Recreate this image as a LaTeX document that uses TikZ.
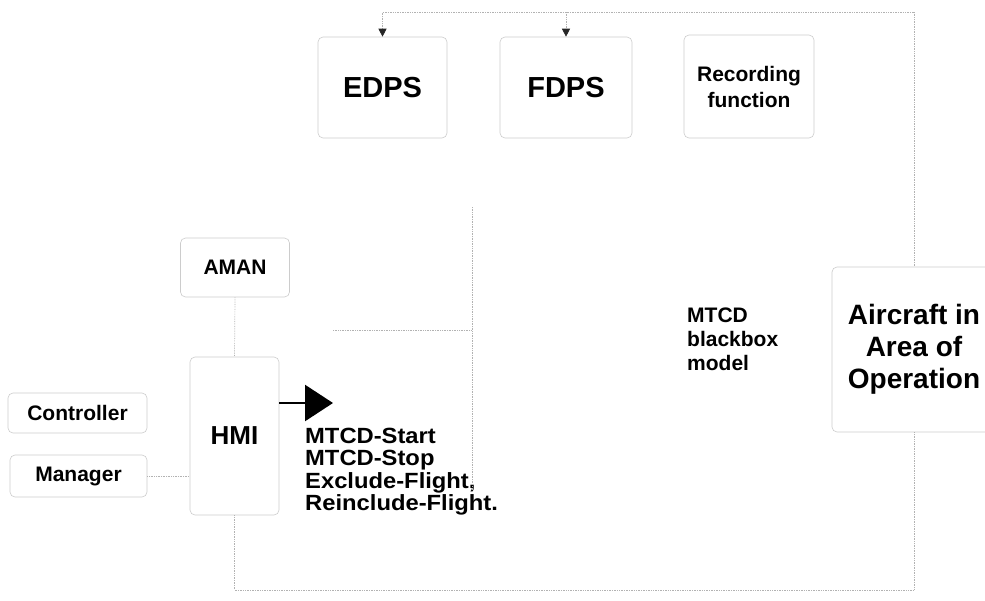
\documentclass[tikz,border=0pt]{standalone}
\usepackage{fontspec}
\setmainfont{Liberation Sans}
\newfontfamily\widesans[FakeStretch=1.08]{Liberation Sans}
\usetikzlibrary{arrows.meta}
\begin{document}
\begin{tikzpicture}[x=1pt,y=-1pt,
  box/.style={draw=gray!40,line width=0.6pt,rounded corners=5pt,inner sep=0pt,font=\bfseries},
  conn/.style={draw=gray!60,line width=0.7pt,densely dotted},
  smalltip/.style={-{Triangle[length=8pt,width=8pt,color=black!85]}},
  fsA/.style={font=\fontsize{29}{32}\selectfont\bfseries},
  fsB/.style={font=\fontsize{21}{24}\selectfont\bfseries},
  fsH/.style={font=\fontsize{26}{28}\selectfont\bfseries}]
\useasboundingbox[fill=white] (0,0) rectangle (985,600);
\clip (0,0) rectangle (985,600);
% boxes
\node[box,fsA,minimum width=129pt,minimum height=101pt] (edps) at (382.5,87.5) {EDPS};
\node[box,fsA,minimum width=132pt,minimum height=101pt] (fdps) at (566,87.5) {FDPS};
\node[box,font=\fontsize{21}{26}\selectfont\bfseries,align=center,minimum width=130pt,minimum height=103pt] (rec) at (749,86.5) {Recording\\function};
\node[box,fsB,minimum width=109pt,minimum height=59pt] (aman) at (235,267.5) {AMAN};
\node[box,fsH,minimum width=89pt,minimum height=158pt] (hmi) at (234.5,436) {HMI};
\node[box,fsB,minimum width=139pt,minimum height=40pt] (ctrl) at (77.5,413) {Controller};
\node[box,fsB,minimum width=137pt,minimum height=42pt] (mgr) at (78.5,476) {Manager};
\node[box,font=\fontsize{28}{32}\selectfont\bfseries,align=center,minimum width=164pt,minimum height=165pt] (air) at (914,349.5) {Aircraft in\\Area of\\Operation};
% texts
\node[font=\widesans\fontsize{22}{22.3}\selectfont\bfseries,align=left,anchor=north west,inner sep=0pt] (cmds) at (305,428) {MTCD-Start\\MTCD-Stop\\Exclude-Flight,\\Reinclude-Flight.};
\node[fsB,align=left,anchor=north west,inner sep=0pt] (bb) at (687,308) {MTCD\\blackbox\\model};
% coordinates
\coordinate (tr) at (914,12);
\coordinate (bot) at (234.5,590);
\coordinate (vb1) at (472,207);
\coordinate (vb2) at (472,490);
\coordinate (hb) at (333,330);
\coordinate (atip) at (333,403);
% connectors
\draw[conn,smalltip] (tr) -| (edps.north);
\draw[conn,smalltip] (fdps.north |- tr) -- (fdps.north);
\draw[conn] (tr) -- (air.north);
\draw[conn] (air.south) |- (bot) -- (hmi.south);
\draw[conn] (aman.south) -- (hmi.north);
\draw[conn] (mgr.east) -- (mgr.east -| hmi.west);
\draw[conn] (vb1) -- (vb2);
\draw[conn] (hb) -- (hb -| vb1);
\draw[line width=2.5pt,-{Triangle[length=28pt,width=36pt]}] (hmi.east |- atip) -- (atip);
\end{tikzpicture}
\end{document}
